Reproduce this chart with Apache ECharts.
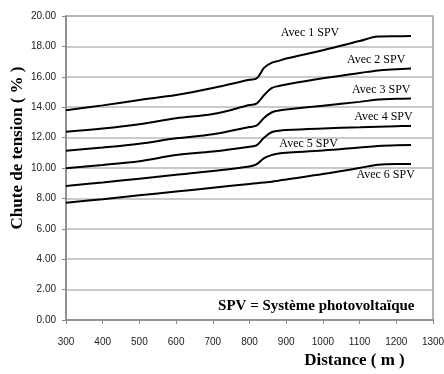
<!DOCTYPE html>
<html><head><meta charset="utf-8">
<script src="https://cdn.jsdelivr.net/npm/echarts@6/dist/echarts.min.js"></script>
<style>html,body{margin:0;padding:0;background:#fff}#c{width:444px;height:374px}</style>
</head><body><div id="c"></div>
<script>
const distances = [300,400,500,600,700,800,820,840,860,880,900,1000,1100,1150,1200,1240];
const spv1 = [13.8,14.12,14.48,14.8,15.26,15.8,15.9,16.6,16.92,17.05,17.2,17.75,18.35,18.65,18.67,18.68];
const spv2 = [12.39,12.6,12.88,13.27,13.55,14.14,14.25,14.8,15.25,15.4,15.5,15.9,16.25,16.42,16.5,16.55];
const spv3 = [11.14,11.35,11.6,11.95,12.22,12.7,12.8,13.3,13.65,13.78,13.85,14.1,14.35,14.5,14.55,14.58];
const spv4 = [9.98,10.2,10.45,10.85,11.08,11.4,11.5,12.0,12.35,12.45,12.5,12.6,12.68,12.72,12.75,12.76];
const spv5 = [8.82,9.05,9.3,9.55,9.8,10.1,10.25,10.65,10.85,10.95,11.0,11.15,11.35,11.45,11.5,11.51];
const spv6 = [7.72,7.95,8.2,8.45,8.7,8.95,9.0,9.05,9.1,9.17,9.25,9.6,10.0,10.22,10.26,10.26];
const seriesNames = ['Avec 1 SPV','Avec 2 SPV','Avec 3 SPV','Avec 4 SPV','Avec 5 SPV','Avec 6 SPV'];
const labelX = [965,1145,1159,1165,961,1171];
const labelY = [18.86,17.1,15.13,13.37,11.58,9.54];
const yTicks = [0,2,4,6,8,10,12,14,16,18,20];

const all = [spv1,spv2,spv3,spv4,spv5,spv6];
const serif = '"Liberation Serif","DejaVu Serif",serif';
const sans = '"Liberation Sans",Arial,sans-serif';
const chart = echarts.init(document.getElementById('c'), null, {renderer:'canvas'});
const series = all.map((vals,i)=>({
  name: seriesNames[i], type:'line', smooth:0.35, symbol:'none',
  lineStyle:{color:'#000', width:2},
  data: distances.map((d,j)=>[d, vals[j]]),
  markPoint:{
    symbol:'circle', symbolSize:0, silent:true,
    label:{show:true, formatter: seriesNames[i], position:'inside', color:'#000', fontFamily:serif, fontSize:12},
    data:[{coord:[labelX[i], labelY[i]]}]
  },
  z: 3
}));
series.push({
  type:'line', data:[], silent:true,
  markPoint:{symbol:'circle', symbolSize:0, silent:true,
    label:{show:true, position:'inside', formatter:'SPV = Système photovoltaïque', color:'#000', fontFamily:serif, fontSize:15, fontWeight:'bold'},
    data:[{coord:[982, 0.92]}]}
});
chart.setOption({
  animation:false,
  grid:{left:66, right:11, top:16, bottom:54, show:true, borderColor:'#9a9a9a', borderWidth:1.5, outerBoundsMode:'none', containLabel:false},
  xAxis:{type:'value', min:300, max:1300, interval:100,
    name:'Distance ( m )', nameLocation:'middle', nameGap:32,
    nameTextStyle:{fontFamily:serif, fontSize:17, fontWeight:'bold', color:'#000', padding:[0,0,0,210]},
    axisLine:{show:true, lineStyle:{color:'#888', width:1.5}},
    axisTick:{show:true, inside:false, length:4, lineStyle:{color:'#888'}},
    axisLabel:{color:'#222', fontFamily:sans, fontSize:10, margin:17, formatter:v=>String(v)},
    splitLine:{show:false}},
  yAxis:{type:'value', min:0, max:20, interval:2,
    name:'Chute de tension ( % )', nameLocation:'middle', nameGap:40, nameMoveOverlap:false,
    nameTextStyle:{fontFamily:serif, fontSize:17, fontWeight:'bold', color:'#000', padding:[0,0,0,40]},
    axisLine:{show:true, lineStyle:{color:'#888', width:1.5}},
    axisTick:{show:true, inside:false, length:4, lineStyle:{color:'#888'}},
    axisLabel:{color:'#222', fontFamily:sans, fontSize:10, margin:10, formatter:v=>yTicks.includes(v)?v.toFixed(2):''},
    splitLine:{show:true, lineStyle:{color:'#b8b8b8', width:1.5}}},
  series: series
});
</script></body></html>
